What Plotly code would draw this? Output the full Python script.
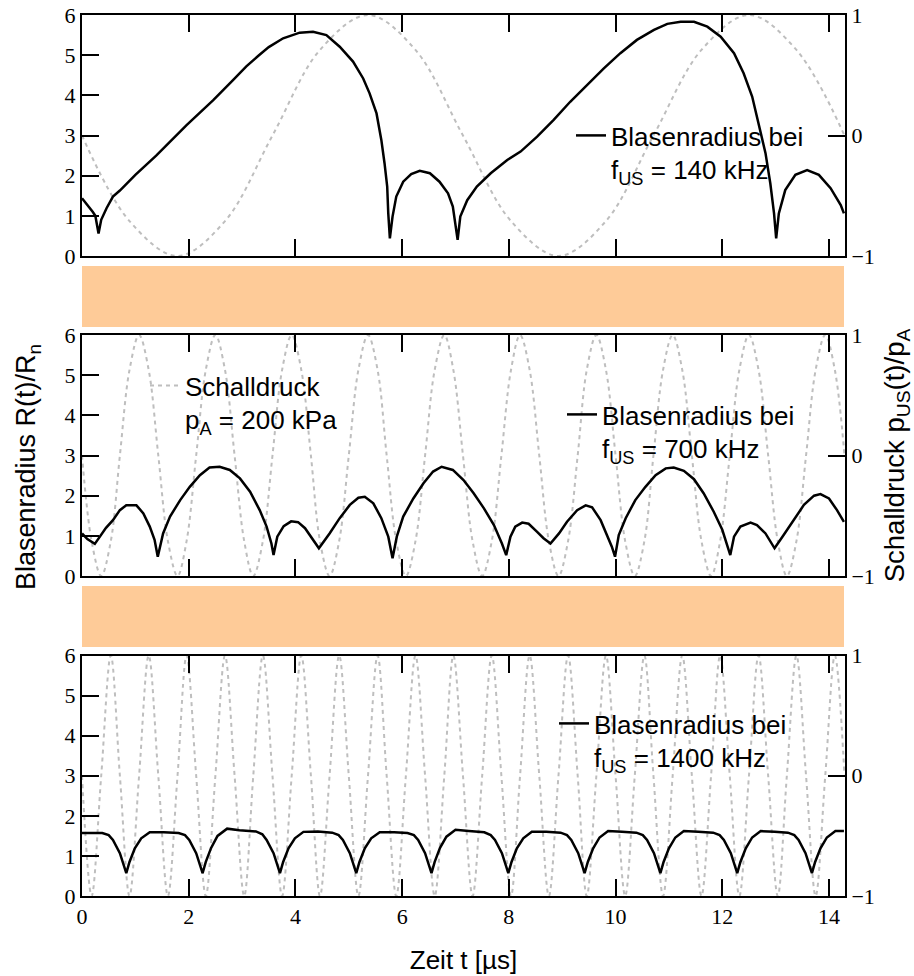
import plotly.graph_objects as go

# ---------------- data ----------------
X_TICKS = [0, 2, 4, 6, 8, 10, 12, 14]
X_TICK_LABELS = ["0", "2", "4", "6", "8", "10", "12", "14"]
R_TICKS = [0, 1, 2, 3, 4, 5, 6]
R_TICK_LABELS = ["0", "1", "2", "3", "4", "5", "6"]
P_TICKS = [-1, 0, 1]
P_TICK_LABELS = ["\u22121", "0", "1"]

# sound pressure p_US(t)/p_A, 140 kHz
T_P140 = [0, 0.89, 1.79, 2.68, 3.57, 4.46, 5.36, 6.25, 7.14, 8.04, 8.93,
          9.82, 10.71, 11.61, 12.5, 13.39, 14.29]
P140 = [0, -0.71, -1, -0.71, 0, 0.71, 1, 0.71, 0, -0.71, -1, -0.71, 0, 0.71,
        1, 0.71, 0]

# common time samples for the 700 kHz and 1400 kHz pressure curves
T_P = [0, 0.18, 0.36, 0.54, 0.71, 0.89, 1.07, 1.25, 1.43, 1.61, 1.79, 1.96,
       2.14, 2.32, 2.5, 2.68, 2.86, 3.04, 3.21, 3.39, 3.57, 3.75, 3.93, 4.11,
       4.29, 4.46, 4.64, 4.82, 5.0, 5.18, 5.36, 5.54, 5.71, 5.89, 6.07, 6.25,
       6.43, 6.61, 6.79, 6.96, 7.14, 7.32, 7.5, 7.68, 7.86, 8.04, 8.21, 8.39,
       8.57, 8.75, 8.93, 9.11, 9.29, 9.46, 9.64, 9.82, 10.0, 10.18, 10.36,
       10.54, 10.71, 10.89, 11.07, 11.25, 11.43, 11.61, 11.79, 11.96, 12.14,
       12.32, 12.5, 12.68, 12.86, 13.04, 13.21, 13.39, 13.57, 13.75, 13.93,
       14.11, 14.29]
P700 = [0, -0.71, -1, -0.71, 0, 0.71, 1, 0.71,
        0, -0.71, -1, -0.71, 0, 0.71, 1, 0.71,
        0, -0.71, -1, -0.71, 0, 0.71, 1, 0.71,
        0, -0.71, -1, -0.71, 0, 0.71, 1, 0.71,
        0, -0.71, -1, -0.71, 0, 0.71, 1, 0.71,
        0, -0.71, -1, -0.71, 0, 0.71, 1, 0.71,
        0, -0.71, -1, -0.71, 0, 0.71, 1, 0.71,
        0, -0.71, -1, -0.71, 0, 0.71, 1, 0.71,
        0, -0.71, -1, -0.71, 0, 0.71, 1, 0.71,
        0, -0.71, -1, -0.71, 0, 0.71, 1, 0.71,
        0]
P1400 = [0, -1, 0, 1, 0, -1, 0, 1, 0, -1, 0, 1, 0, -1, 0, 1,
         0, -1, 0, 1, 0, -1, 0, 1, 0, -1, 0, 1, 0, -1, 0, 1,
         0, -1, 0, 1, 0, -1, 0, 1, 0, -1, 0, 1, 0, -1, 0, 1,
         0, -1, 0, 1, 0, -1, 0, 1, 0, -1, 0, 1, 0, -1, 0, 1,
         0, -1, 0, 1, 0, -1, 0, 1, 0, -1, 0, 1, 0, -1, 0, 1,
         0]

# bubble radius R(t)/R_n at 140 kHz
T_R140 = [0, 0.08, 0.2, 0.25, 0.31, 0.36, 0.46, 0.58, 0.71, 1.0, 1.39, 1.96,
          2.46, 2.83, 3.08, 3.30, 3.50, 3.77, 4.08, 4.33, 4.58, 4.83, 5.08,
          5.27, 5.39, 5.52, 5.61, 5.67, 5.72, 5.74, 5.77, 5.82, 5.89, 6.02,
          6.17, 6.33, 6.52, 6.70, 6.86, 6.95, 7.04, 7.09, 7.22, 7.40, 7.66,
          7.97, 8.22, 8.53, 8.84, 9.15, 9.47, 9.78, 10.09, 10.40, 10.72,
          10.97, 11.22, 11.47, 11.72, 11.97, 12.22, 12.40, 12.56, 12.68,
          12.81, 12.90, 12.97, 13.01, 13.06, 13.18, 13.37, 13.59, 13.81,
          14.03, 14.22, 14.28]
R140 = [1.44, 1.31, 1.10, 1.00, 0.56, 0.90, 1.19, 1.48, 1.63, 2.02, 2.50, 3.26,
        3.88, 4.38, 4.72, 4.98, 5.20, 5.42, 5.56, 5.58, 5.50, 5.21, 4.84,
        4.42, 4.05, 3.55, 2.89, 2.31, 1.73, 1.06, 0.44, 0.98, 1.48, 1.85,
        2.04, 2.12, 2.06, 1.85, 1.56, 1.23, 0.40, 0.98, 1.39, 1.73, 2.06,
        2.39, 2.60, 2.97, 3.39, 3.84, 4.26, 4.67, 5.05, 5.38, 5.63,
        5.78, 5.83, 5.83, 5.71, 5.46, 5.05, 4.55, 3.97, 3.30,
        2.56, 1.81, 1.06, 0.44, 1.06, 1.64, 2.02, 2.14, 2.02,
        1.69, 1.27, 1.06]

# bubble radius R(t)/R_n at 700 kHz
T_R700 = [0, 0.10, 0.24, 0.33, 0.45, 0.58, 0.71, 0.83, 1.02, 1.15, 1.27, 1.36,
          1.42, 1.52, 1.65, 1.84, 2.02, 2.21, 2.39, 2.58, 2.77, 2.96, 3.15,
          3.33, 3.46, 3.55, 3.59, 3.66, 3.78, 3.92, 4.05, 4.18, 4.33, 4.44,
          4.64, 4.83, 5.02, 5.18, 5.30, 5.46, 5.61, 5.74, 5.82, 5.90, 6.02,
          6.21, 6.40, 6.58, 6.74, 6.95, 7.15, 7.34, 7.53, 7.72, 7.87, 7.95,
          8.03, 8.12, 8.25, 8.37, 8.53, 8.65, 8.78, 8.94, 9.09, 9.28, 9.44,
          9.56, 9.72, 9.84, 9.93, 9.99, 10.06, 10.19, 10.37, 10.56, 10.75,
          10.94, 11.09, 11.28, 11.47, 11.65, 11.84, 12.00, 12.09, 12.15,
          12.22, 12.34, 12.53, 12.65, 12.81, 12.98, 13.15, 13.34, 13.53,
          13.72, 13.84, 14.00, 14.15, 14.28]
R700 = [1.06, 0.92, 0.80, 0.98, 1.20, 1.39, 1.64, 1.76, 1.76, 1.56, 1.23, 0.90,
        0.48, 1.06, 1.48, 1.89, 2.22, 2.51, 2.70, 2.72, 2.64, 2.43, 2.10,
        1.64, 1.23, 0.81, 0.52, 0.98, 1.24, 1.36, 1.34, 1.19, 0.90, 0.69,
        1.06, 1.44, 1.77, 1.95, 1.97, 1.81, 1.44, 0.98, 0.44, 0.98, 1.48,
        1.93, 2.31, 2.60, 2.72, 2.64, 2.39, 2.06, 1.69, 1.27, 0.81, 0.52,
        0.98, 1.23, 1.33, 1.30, 1.10, 0.94, 0.81, 1.06, 1.35, 1.64, 1.76,
        1.71, 1.39, 1.02, 0.73, 0.48, 1.02, 1.44, 1.89, 2.22, 2.51,
        2.68, 2.70, 2.62, 2.41, 2.06, 1.60, 1.15, 0.77, 0.52,
        0.98, 1.23, 1.33, 1.27, 1.06, 0.69, 1.02, 1.39, 1.77,
        2.00, 2.04, 1.93, 1.64, 1.35]

# bubble radius R(t)/R_n at 1400 kHz
T_R1400 = [0.00, 0.38, 0.50, 0.58, 0.71, 0.79, 0.83,
           0.89, 0.99, 1.11, 1.27, 1.53, 1.81, 1.93, 2.01, 2.14, 2.22, 2.26,
           2.32, 2.42, 2.54, 2.72, 2.95, 3.26, 3.38, 3.46, 3.59, 3.67, 3.71,
           3.77, 3.87, 3.99, 4.15, 4.42, 4.69, 4.81, 4.89, 5.02, 5.10, 5.14,
           5.20, 5.30, 5.42, 5.58, 5.85, 6.10, 6.22, 6.30, 6.43, 6.51, 6.55,
           6.61, 6.71, 6.83, 7.00, 7.25, 7.54, 7.66, 7.74, 7.87, 7.95, 7.99,
           8.05, 8.15, 8.27, 8.43, 8.70, 8.97, 9.09, 9.17, 9.30, 9.38, 9.42,
           9.48, 9.58, 9.70, 9.86, 10.12, 10.39, 10.51, 10.59, 10.72, 10.80, 10.84,
           10.90, 11.00, 11.12, 11.28, 11.55, 11.83, 11.95, 12.03, 12.16, 12.24, 12.28,
           12.34, 12.44, 12.56, 12.72, 12.98, 13.23, 13.35, 13.43, 13.56, 13.64, 13.68,
           13.74, 13.84, 13.96, 14.12, 14.28]
R1400 = [1.57, 1.57, 1.52, 1.40, 1.07, 0.75, 0.57,
         0.85, 1.19, 1.44, 1.59, 1.59, 1.57, 1.52, 1.40, 1.07, 0.75, 0.57,
         0.85, 1.20, 1.50, 1.68, 1.64, 1.61, 1.54, 1.40, 1.07, 0.75, 0.57,
         0.85, 1.19, 1.44, 1.60, 1.61, 1.58, 1.52, 1.40, 1.07, 0.75, 0.57,
         0.85, 1.19, 1.44, 1.59, 1.59, 1.57, 1.52, 1.40, 1.07, 0.75, 0.57,
         0.85, 1.20, 1.48, 1.65, 1.62, 1.59, 1.52, 1.40, 1.07, 0.75, 0.57,
         0.85, 1.19, 1.44, 1.60, 1.60, 1.58, 1.52, 1.40, 1.07, 0.75, 0.57,
         0.85, 1.19, 1.46, 1.62, 1.60, 1.58, 1.52, 1.40, 1.07, 0.75, 0.57,
         0.85, 1.19, 1.46, 1.62, 1.60, 1.58, 1.52, 1.40, 1.07, 0.75, 0.57,
         0.85, 1.19, 1.46, 1.62, 1.60, 1.58, 1.52, 1.40, 1.07, 0.75, 0.57,
         0.85, 1.19, 1.46, 1.62, 1.62]

NAME_140 = "Blasenradius bei<br>f<sub>US</sub> = 140 kHz"
NAME_700 = "Blasenradius bei<br>f<sub>US</sub> = 700 kHz"
NAME_1400 = "Blasenradius bei<br>f<sub>US</sub> = 1400 kHz"
NAME_P = "Schalldruck<br>p<sub>A</sub> = 200 kPa"
TITLE_R = "Blasenradius R(t)/R<sub>n</sub>"
TITLE_P = "Schalldruck p<sub>US</sub>(t)/p<sub>A</sub>"
TITLE_T = "Zeit t [µs]"

# ---------------- styling ----------------
SANS = "Liberation Sans"
SERIF = "Liberation Serif"
GRAY = "#BEBEBE"
ORANGE = "#FECB98"
TICK_COLOR = "black"

fig = go.Figure()

def pressure_trace(t, p, xa, ya, name=None, legend=None):
    return go.Scatter(x=t, y=p, xaxis=xa, yaxis=ya, mode="lines",
                      line=dict(color=GRAY, width=2, dash="4px,4px", shape="spline"),
                      name=name or "Schalldruck", showlegend=legend is not None,
                      legend=legend or "legend", hoverinfo="skip")

def radius_trace(t, r, xa, ya, name, legend):
    return go.Scatter(x=t, y=r, xaxis=xa, yaxis=ya, mode="lines",
                      line=dict(color="black", width=2.5),
                      name=name, showlegend=True, legend=legend, hoverinfo="skip")

fig.add_trace(pressure_trace(T_P140, P140, "x", "y"))
fig.add_trace(radius_trace(T_R140, R140, "x", "y2", NAME_140, "legend"))
fig.add_trace(pressure_trace(T_P, P700, "x2", "y3", NAME_P, "legend2"))
fig.add_trace(radius_trace(T_R700, R700, "x2", "y4", NAME_700, "legend3"))
fig.add_trace(pressure_trace(T_P, P1400, "x3", "y5"))
fig.add_trace(radius_trace(T_R1400, R1400, "x3", "y6", NAME_1400, "legend4"))

tickfont = dict(family=SERIF, size=22, color="black")

def common_axis():
    return dict(showgrid=False, zeroline=False, showline=True, linewidth=2,
                linecolor="black", ticks="inside", ticklen=17, tickwidth=2,
                tickcolor=TICK_COLOR, tickfont=tickfont, automargin=False)

def xaxis(anchor, labels, title=None):
    d = common_axis()
    d.update(range=[0, 14.3], tickmode="array", tickvals=X_TICKS,
             ticktext=X_TICK_LABELS, mirror="ticks", anchor=anchor,
             showticklabels=labels)
    if title:
        d["title"] = dict(text=title, font=dict(family=SANS, size=26, color="black"),
                          standoff=22)
    return d

def p_axis(anchor, domain, title=None):
    d = common_axis()
    d.update(range=[-1, 1], tickmode="array", tickvals=P_TICKS,
             ticktext=P_TICK_LABELS, side="right", anchor=anchor, domain=domain)
    if title:
        d["title"] = dict(text=title, font=dict(family=SANS, size=27.5, color="black"),
                          standoff=23)
    return d

def r_axis(anchor, over):
    d = common_axis()
    d.update(range=[0, 6], tickmode="array", tickvals=R_TICKS,
             ticktext=R_TICK_LABELS, side="left", anchor=anchor, overlaying=over)
    return d

H = 881.0
def py(px):
    return (896 - px) / H

def px_x(px):
    return (px - 82) / 763.0

dom1 = [py(256), py(15)]
dom2 = [py(576), py(335)]
dom3 = [0.0, py(655.5)]

legend_common = dict(bgcolor="rgba(0,0,0,0)", borderwidth=0, xanchor="left",
                     yanchor="top", valign="top",
                     font=dict(family=SANS, size=26, color="black"))

fig.update_layout(
    template="none",
    width=914, height=976,
    margin=dict(l=82, r=69, t=15, b=80, autoexpand=False),
    paper_bgcolor="white", plot_bgcolor="rgba(0,0,0,0)",
    font=dict(family=SANS, size=26, color="black"),
    xaxis=xaxis("y", False),
    xaxis2=xaxis("y3", False),
    xaxis3=xaxis("y5", True, TITLE_T),
    yaxis=p_axis("x", dom1),
    yaxis2=r_axis("x", "y"),
    yaxis3=p_axis("x2", dom2, TITLE_P),
    yaxis4=r_axis("x2", "y3"),
    yaxis5=p_axis("x3", dom3),
    yaxis6=r_axis("x3", "y5"),
    legend=dict(legend_common, x=px_x(571), y=py(112)),
    legend2=dict(legend_common, x=px_x(145), y=py(362)),
    legend3=dict(legend_common, x=px_x(562), y=py(391)),
    legend4=dict(legend_common, x=px_x(554), y=py(700)),
    annotations=[
        dict(text=TITLE_R, textangle=-90, xref="paper", yref="paper",
             x=px_x(28), y=py(467), xanchor="center", yanchor="middle",
             showarrow=False, font=dict(family=SANS, size=27, color="black")),
    ],
    shapes=[
        dict(type="rect", xref="paper", yref="paper", x0=0, x1=762 / 763.0,
             y0=py(327), y1=py(266), fillcolor=ORANGE, line=dict(width=0),
             layer="below"),
        dict(type="rect", xref="paper", yref="paper", x0=0, x1=762 / 763.0,
             y0=py(647), y1=py(586), fillcolor=ORANGE, line=dict(width=0),
             layer="below"),
    ],
)

fig.write_html(
    "out.html",
    config={"displayModeBar": False},
    post_script="document.body.style.margin='0';document.body.style.padding='0';",
)
